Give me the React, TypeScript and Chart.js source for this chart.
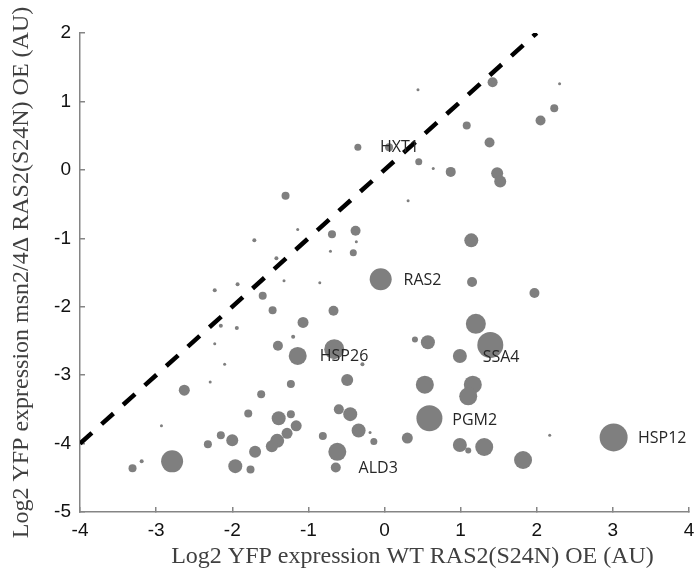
import { useEffect, useRef } from "react";
import { Chart, registerables } from "chart.js";

Chart.register(...registerables);

// Bubble data: WT RAS2(S24N) OE (x), msn2/4Δ RAS2(S24N) OE (y), bubble weight
const xValues = [
  1.42, 2.30, 2.23, 2.05, 0.44, 1.08, 1.38, -0.35, 0.06, 0.45,
  0.64, 0.87, 1.48, 1.52, 0.31, -0.38, -0.37, -0.41, 1.14, -0.05,
  1.15, 1.97, 1.20, 1.39, 0.40, 0.57, 0.99, 0.53, 1.16, 1.10,
  0.59, -0.34, -0.19, -0.14, 0.30, 0.99, 1.10, 1.31, 1.82, 2.17,
  3.01, -1.40, -1.14, -0.66, -0.29, -1.23, -0.49, -0.60, -0.45, -1.23,
  -1.39, -1.16, -1.28, -1.41, -0.81, -0.62, -0.64, -2.23, -2.10, -2.63,
  -2.29, -1.62, -1.79, -2.93, -2.15, -2.00, -2.32, -1.70, -1.48, -2.79,
  -3.19, -3.31, -1.96, -1.76, -1.71, -1.42, -2.23, -1.93, -1.60, -1.47,
  -2.15, -1.94, -1.30, -1.14, -0.69, -0.71, -1.32, -0.85, -0.67, -1.07,
  -1.20,
];
const yValues = [
  1.28, 1.26, 0.90, 0.72, 1.17, 0.65, 0.40, 0.33, 0.33, 0.12,
  0.02, -0.03, -0.05, -0.17, -0.45, -0.89, -1.05, -1.21, -1.03, -1.60,
  -1.64, -1.80, -2.25, -2.56, -2.48, -2.52, -2.72, -3.14, -3.14, -3.31,
  -3.63, -3.81, -3.84, -3.97, -3.92, -4.02, -4.10, -4.05, -4.24, -3.88,
  -3.91, -2.57, -2.72, -2.62, -2.84, -3.13, -3.07, -3.50, -3.57, -3.57,
  -3.63, -3.74, -3.85, -3.96, -3.89, -4.12, -4.35, -2.54, -2.84, -3.22,
  -3.10, -3.28, -3.56, -3.74, -3.88, -3.95, -4.01, -4.12, -4.04, -4.26,
  -4.26, -4.36, -4.33, -4.38, -1.03, -1.29, -1.76, -1.67, -1.84, -2.05,
  -2.28, -2.31, -0.38, -0.87, -0.94, -1.19, -1.62, -1.65, -2.06, -2.23,
  -2.44,
];
const bubbleWeights = [
  5, 1.5, 4, 5, 1.5, 4, 5, 3.5, 4, 3.5,
  1.5, 5, 6, 6, 1.5, 5, 1.5, 3.5, 7, 11,
  5, 5, 10, 13, 3, 7, 7, 9, 9, 9,
  13, 7, 1.5, 3.5, 5.5, 7, 3, 9, 9, 1.5,
  14, 5, 9, 10, 2, 4, 6, 5, 7, 4,
  7, 5.5, 5.5, 7, 4, 9, 5, 1.5, 1.5, 5.5,
  1.5, 4, 4, 1.5, 4, 6, 4, 6, 6, 11,
  2, 4, 7, 4, 2, 2, 2, 2, 4, 4,
  2, 2, 4, 1.5, 4, 1.5, 1.5, 1.5, 5, 5.5,
  2,
];

// Gene annotations
const geneNames = ["HXT1", "RAS2", "HSP26", "SSA4", "PGM2", "HSP12", "ALD3"];
const geneLabelX = [-0.06, 0.25, -0.85, 1.29, 0.89, 3.33, -0.34];
const geneLabelY = [0.33, -1.61, -2.73, -2.74, -3.66, -3.92, -4.37];

// Identity line
const diagonalX = [-4, 2];
const diagonalY = [-4, 2];

const xMin = -4, xMax = 4, yMin = -5, yMax = 2;
const xTitle = "Log2 YFP expression WT RAS2(S24N) OE (AU)";
const yTitle = "Log2 YFP expression msn2/4\u0394 RAS2(S24N) OE (AU)";

const annotationPlugin = {
  id: "annotations",
  afterDatasetsDraw(chart: any) {
    const { ctx, scales } = chart;
    ctx.save();
    ctx.font = '16px "Open Sans", "Noto Sans", sans-serif';
    ctx.fillStyle = "#262626";
    ctx.textAlign = "left";
    ctx.textBaseline = "middle";
    geneNames.forEach((name, i) => {
      const px = scales.x.getPixelForValue(geneLabelX[i]);
      const py = scales.y.getPixelForValue(geneLabelY[i]);
      ctx.fillText(name, px, py);
    });
    ctx.restore();
  },
  afterDraw(chart: any) {
    const { ctx, chartArea } = chart;
    ctx.save();
    ctx.font = '24px "Liberation Serif", "Times New Roman", serif';
    ctx.fillStyle = "#404040";
    ctx.textAlign = "center";
    ctx.textBaseline = "middle";
    ctx.fillText(xTitle, (chartArea.left + chartArea.right) / 2 + 28, chart.height - 18);
    ctx.restore();
  },
};

export default function App() {
  const canvasRef = useRef<HTMLCanvasElement | null>(null);

  useEffect(() => {
    if (!canvasRef.current) return;
    const bubbles = xValues.map((x, i) => ({ x, y: yValues[i], r: bubbleWeights[i] }));
    const diag = diagonalX.map((x, i) => ({ x, y: diagonalY[i] }));
    const axisColor = "#858585";
    const tickFont = { family: '"Liberation Sans", Arial, sans-serif', size: 19 };
    const yTitleFont = { family: '"Liberation Serif", "Times New Roman", serif', size: 24, lineHeight: 1 };

    const chart = new Chart(canvasRef.current, {
      type: "bubble",
      data: {
        datasets: [
          {
            type: "line" as any,
            data: diag,
            borderColor: "#000000",
            borderWidth: 4.5,
            borderDash: [16, 13],
            pointRadius: 0,
            fill: false,
          } as any,
          {
            data: bubbles,
            backgroundColor: "#7f7f7f",
            borderWidth: 0,
            hoverRadius: 0,
          } as any,
        ],
      },
      options: {
        animation: false,
        responsive: true,
        maintainAspectRatio: false,
        events: [],
        layout: { autoPadding: false, padding: { left: 0, top: 33, right: 9, bottom: 0 } },
        plugins: { legend: { display: false }, tooltip: { enabled: false } },
        scales: {
          x: {
            type: "linear",
            min: xMin,
            max: xMax,
            position: "bottom",
            afterFit: (s: any) => { s.height = 63; s.paddingRight = 0; s.paddingLeft = 0; },
            ticks: { stepSize: 1, font: tickFont, color: "#111111", padding: 12 },
            grid: { drawOnChartArea: false, drawTicks: true, tickLength: -5, color: axisColor, lineWidth: 1.5 },
            border: { color: axisColor, width: 1.5 },
            title: { display: false },
          },
          y: {
            type: "linear",
            min: yMin,
            max: yMax,
            position: "left",
            afterFit: (s: any) => { s.width = 80; s.paddingTop = 0; s.paddingBottom = 0; },
            ticks: { stepSize: 1, font: tickFont, color: "#111111", padding: 14 },
            grid: { drawOnChartArea: false, drawTicks: true, tickLength: -5, color: axisColor, lineWidth: 1.5 },
            border: { color: axisColor, width: 1.5 },
            title: { display: true, text: yTitle, font: yTitleFont, color: "#404040", padding: { top: 10, bottom: 0 } },
          },
        },
      } as any,
      plugins: [annotationPlugin],
    });
    return () => chart.destroy();
  }, []);

  return (
    <div style={{ position: "fixed", left: 0, top: 0, width: 698, height: 575, background: "#fff" }}>
      <canvas ref={canvasRef} />
    </div>
  );
}
